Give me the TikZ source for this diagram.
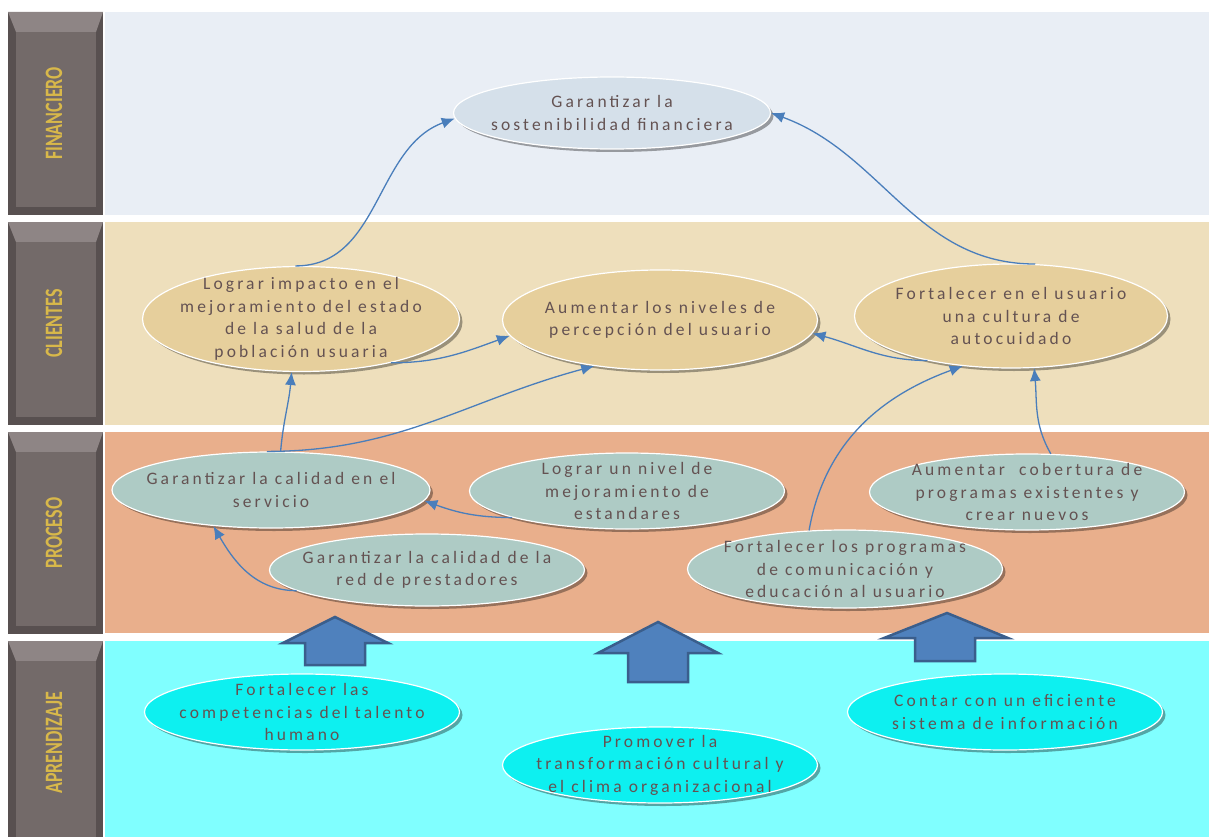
\documentclass[tikz,border=0pt]{standalone}
\usepackage{fontspec}
\setmainfont{Carlito}
\newfontfamily\elfont[LetterSpace=18]{Carlito}
\newfontfamily\labfont{Carlito}
\usetikzlibrary{shapes.geometric,arrows.meta,shadows}
\definecolor{finb}{HTML}{E9EEF5}
\definecolor{clib}{HTML}{EEDFBC}
\definecolor{prob}{HTML}{E9AF8C}
\definecolor{aprb}{HTML}{80FFFF}
\definecolor{finel}{HTML}{D5E0EA}
\definecolor{cliel}{HTML}{E6CF9C}
\definecolor{proel}{HTML}{AECBC5}
\definecolor{aprel}{HTML}{0DF0F0}
\definecolor{txt}{HTML}{645252}
\definecolor{conn}{HTML}{4A7EBB}
\definecolor{barfill}{HTML}{4F81BD}
\definecolor{bardraw}{HTML}{3A5E8C}
\definecolor{labdark}{HTML}{585050}
\definecolor{labtop}{HTML}{8E8585}
\definecolor{labface}{HTML}{736A69}
\definecolor{labtxt}{HTML}{D8B84A}
\newcommand{\mysidebox}[4]{%
  \fill[labdark] (8,-#1) rectangle (103,-#2);
  \fill[labtop] (8,-#1) -- (103,-#1) -- (96,-#1-20) -- (16,-#1-20) -- cycle;
  \fill[labface] (16,-#1-20) rectangle (96,-#2+8);
  \node[rotate=90, text=labtxt, font=\labfont\bfseries\fontsize{25}{27}\selectfont] (#4) at (54,{-(#1+#2)/2}) {\scalebox{0.72}[1]{#3}};
}
\begin{document}
\begin{tikzpicture}[x=1pt,y=1pt,
  obj/.style={ellipse, draw=white, line width=1.2pt, inner xsep=-60pt, inner ysep=-20pt,
    minimum width=315pt, minimum height=76pt, align=center,
    font=\elfont\fontsize{17.5}{22.5}\selectfont, text=txt,
    drop shadow={shadow xshift=3pt, shadow yshift=-3pt, opacity=0.35, fill=black}},
  link/.style={draw=conn, line width=1.3pt, -{Latex[length=13pt,width=11pt]}},
  bigarrow/.style={fill=barfill, draw=bardraw, line width=2.5pt, line join=miter}
]
\useasboundingbox (0,0) rectangle (1209,-837);
\fill[white] (0,0) rectangle (1209,-837);
% bands
\fill[finb] (105,-12) rectangle (1209,-215);
\fill[clib] (105,-222) rectangle (1209,-425);
\fill[prob] (105,-432) rectangle (1209,-633);
\fill[aprb] (105,-641) rectangle (1209,-837);
% side labels
\mysidebox{12}{215}{FINANCIERO}{lfin}
\mysidebox{222}{425}{CLIENTES}{lcli}
\mysidebox{432}{634}{PROCESO}{lpro}
\mysidebox{641}{845}{APRENDIZAJE}{lapr}
% block arrows
\draw[bigarrow] (305,-665) -- (305,-643) -- (283,-643) -- (335,-617) -- (388,-643) -- (365,-643) -- (365,-665) -- cycle;
\draw[bigarrow] (628,-682) -- (628,-653) -- (598,-653) -- (658,-622) -- (718,-653) -- (688,-653) -- (688,-682) -- cycle;
\draw[bigarrow] (915,-661) -- (915,-638) -- (884,-638) -- (947,-613) -- (1008,-638) -- (975,-638) -- (975,-661) -- cycle;
% ellipses
\node[obj, fill=finel, minimum width=317pt, minimum height=72pt] (e1) at (612,-113) {Garantizar la\\sostenibilidad financiera};
\node[obj, fill=cliel, minimum width=317pt, minimum height=105pt] (e2) at (301,-319) {Lograr impacto en el\\mejoramiento del estado\\de la salud de la\\población usuaria};
\node[obj, fill=cliel, minimum height=100pt] (e3) at (660,-320) {Aumentar los niveles de\\percepción del usuario};
\node[obj, fill=cliel, minimum width=313pt, minimum height=104pt] (e4) at (1011,-316) {Fortalecer en el usuario\\una cultura de\\autocuidado};
\node[obj, fill=proel, minimum width=318pt] (e5) at (271,-490) {Garantizar la calidad en el\\servicio};
\node[obj, fill=proel] (e6) at (627,-491) {Lograr un nivel de\\mejoramiento de\\estandares};
\node[obj, fill=proel] (e7) at (1027,-492) {Aumentar\ \ cobertura de\\programas existentes y\\crear nuevos};
\node[obj, fill=proel, minimum height=78pt] (e8) at (845,-569) {Fortalecer los programas\\de comunicación y\\educación al usuario};
\node[obj, fill=proel, minimum height=72pt] (e9) at (427,-570) {Garantizar la calidad de la\\red de prestadores};
\node[obj, fill=aprel] (e10) at (302,-712) {Fortalecer las\\competencias del talento\\humano};
\node[obj, fill=aprel] (e11) at (660,-765) {Promover la\\transformación cultural y\\el clima organizacional};
\node[obj, fill=aprel] (e12) at (1005,-712) {Contar con un eficiente\\sistema de información};
% connectors
\draw[link] (e2.96) to[out=0, in=200] (e1.182);
\draw[link] (e4.65) to[out=180, in=-20] (e1.east);
\draw[link] (e2.-26) to[out=0, in=200] (e3.186);
\draw[link] (e4.-152) to[out=180, in=-15] (e3.-5);
\draw[link] (e5.76) to[out=85, in=-95] (e2.-100);
\draw[link] (e5.96) to[out=0, in=195] (e3.-145);
\draw[link] (e7.58) to[out=120, in=-85] (e4.-66);
\draw[link] (e8.133) to[out=80, in=200] (e4.-134);
\draw[link] (e6.-167) to[out=180, in=-20] (e5.-4);
\draw[link] (e9.-171) to[out=180, in=-60] (e5.-148);
\end{tikzpicture}
\end{document}
